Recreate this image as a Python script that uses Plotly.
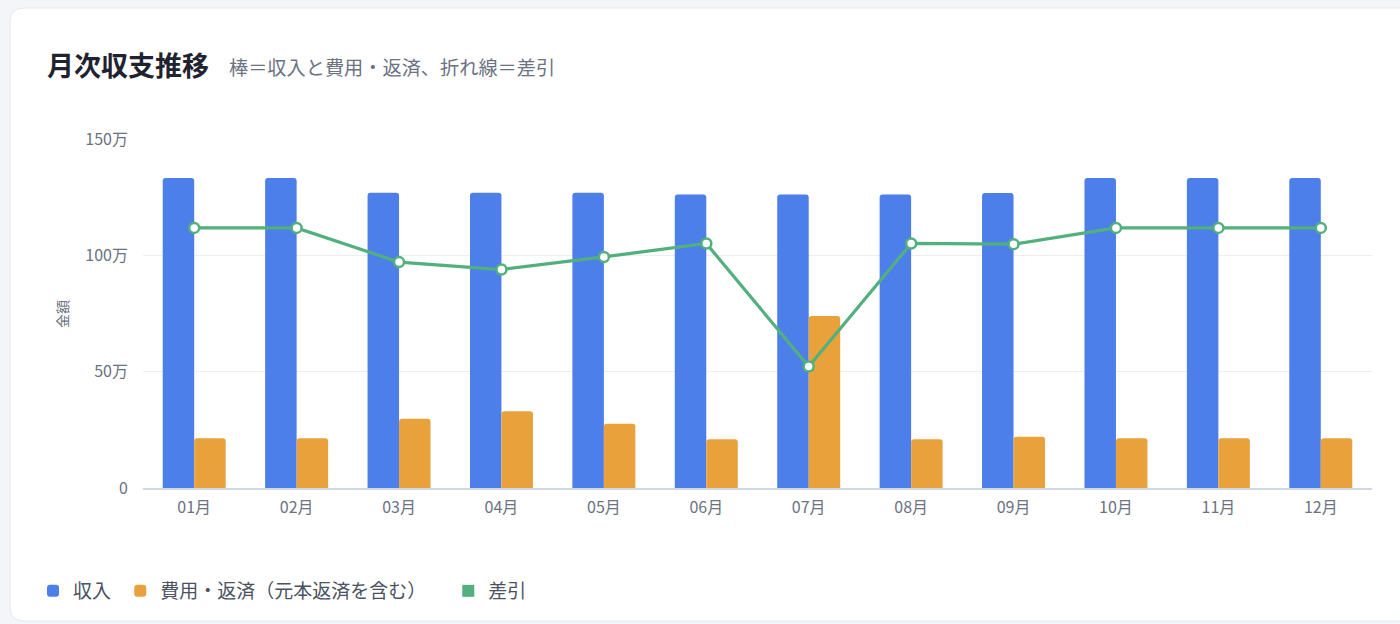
import plotly.graph_objects as go

# Monthly data (yen)
months = ['01月', '02月', '03月', '04月', '05月', '06月', '07月', '08月', '09月', '10月', '11月', '12月']
income = [1332000, 1332000, 1269000, 1269000, 1269000, 1261000, 1261000, 1261000, 1268000, 1332000, 1332000, 1332000]
expense = [214000, 214000, 298000, 330000, 276000, 210000, 739000, 210000, 220000, 214000, 214000, 214000]
balance = [1118000, 1118000, 971000, 939000, 993000, 1051000, 522000, 1051000, 1048000, 1118000, 1118000, 1118000]

y_tick_vals = [0, 500000, 1000000, 1500000]
y_tick_text = ['0', '50万', '100万', '150万']

series_names = ['収入', '費用・返済（元本返済を含む）', '差引']
colors = ['#4c7fea', '#e9a23b', '#52b07e']

FONT = 'Noto Sans CJK JP'
W, H = 1400, 624
L, R, T, B = 143, 28, 139, 136
PW, PH = W - L - R, H - T - B
NB = '\u00a0'  # padding between legend entries


def px(x):
    return (x - L) / PW


def py(y):
    return (H - B - y) / PH


fig = go.Figure()

fig.add_trace(go.Bar(x=months, y=income, name=series_names[0] + NB,
                     marker=dict(color=colors[0], line=dict(width=0))))
fig.add_trace(go.Bar(x=months, y=expense, name=series_names[1] + NB * 4,
                     marker=dict(color=colors[1], line=dict(width=0))))
fig.add_trace(go.Scatter(x=months, y=balance, name=series_names[2], mode='lines+markers',
                         line=dict(color=colors[2], width=3.2),
                         marker=dict(size=10, color='white', line=dict(color=colors[2], width=2.5)),
                         showlegend=False))
# legend icon for the line as a square
fig.add_trace(go.Scatter(x=[None], y=[None], name=series_names[2], mode='markers',
                         marker=dict(symbol='square', size=12, color=colors[2])))

# card background (rounded rect), built in pixels then converted to paper coords
cx0, cy0, cx1, cy1, rad = 10, 8, 1420, 621, 14
card_path = (f"M {px(cx0 + rad)},{py(cy0)} L {px(cx1 - rad)},{py(cy0)} "
             f"Q {px(cx1)},{py(cy0)} {px(cx1)},{py(cy0 + rad)} "
             f"L {px(cx1)},{py(cy1 - rad)} Q {px(cx1)},{py(cy1)} {px(cx1 - rad)},{py(cy1)} "
             f"L {px(cx0 + rad)},{py(cy1)} Q {px(cx0)},{py(cy1)} {px(cx0)},{py(cy1 - rad)} "
             f"L {px(cx0)},{py(cy0 + rad)} Q {px(cx0)},{py(cy0)} {px(cx0 + rad)},{py(cy0)} Z")
fig.add_shape(type='path', path=card_path, xref='paper', yref='paper', layer='below',
              fillcolor='white', line=dict(color='#e6e8ee', width=1))

fig.add_annotation(text='<b>月次収支推移</b>', x=px(45), y=py(64), xref='paper', yref='paper',
                   xanchor='left', yanchor='middle', showarrow=False,
                   font=dict(family=FONT, size=27, color='#1f2330'))
fig.add_annotation(text='棒＝収入と費用・返済、折れ線＝差引', x=px(227), y=py(67), xref='paper', yref='paper',
                   xanchor='left', yanchor='middle', showarrow=False,
                   font=dict(family=FONT, size=19.2, color='#6b7282'))
fig.add_annotation(text='金額', x=px(62), y=py(314), xref='paper', yref='paper',
                   xanchor='center', yanchor='middle', textangle=-90, showarrow=False,
                   font=dict(family=FONT, size=14, color='#6b7282'))

fig.update_layout(
    width=W, height=H,
    margin=dict(l=L, r=R, t=T, b=B),
    paper_bgcolor='#f4f5f8',
    plot_bgcolor='rgba(0,0,0,0)',
    barmode='group',
    bargap=0.385,
    bargroupgap=0,
    barcornerradius=3,
    font=dict(family=FONT, size=16, color='#6b7282'),
    showlegend=True,
    legend=dict(orientation='h', x=px(33), y=py(591), xanchor='left', yanchor='middle',
                font=dict(family=FONT, size=19, color='#4b5262'),
                bgcolor='rgba(0,0,0,0)', itemwidth=30, tracegroupgap=0),
    hovermode='x unified',
)

fig.update_xaxes(range=[-0.5, len(months) - 0.5], showgrid=False, showline=True,
                 linecolor='#d3d7e0', linewidth=2,
                 ticks='', tickfont=dict(size=16, color='#6b7282'), ticklabelstandoff=4)
fig.update_yaxes(range=[0, 1500000], tickvals=y_tick_vals, ticktext=y_tick_text,
                 showgrid=True, gridcolor='#eceef3', gridwidth=1, zeroline=False,
                 showline=False, ticks='', tickfont=dict(size=16, color='#6b7282'),
                 ticklabelstandoff=14)

fig.write_html('out.html', config={'displayModeBar': False},
               post_script="document.body.style.margin='0';")
